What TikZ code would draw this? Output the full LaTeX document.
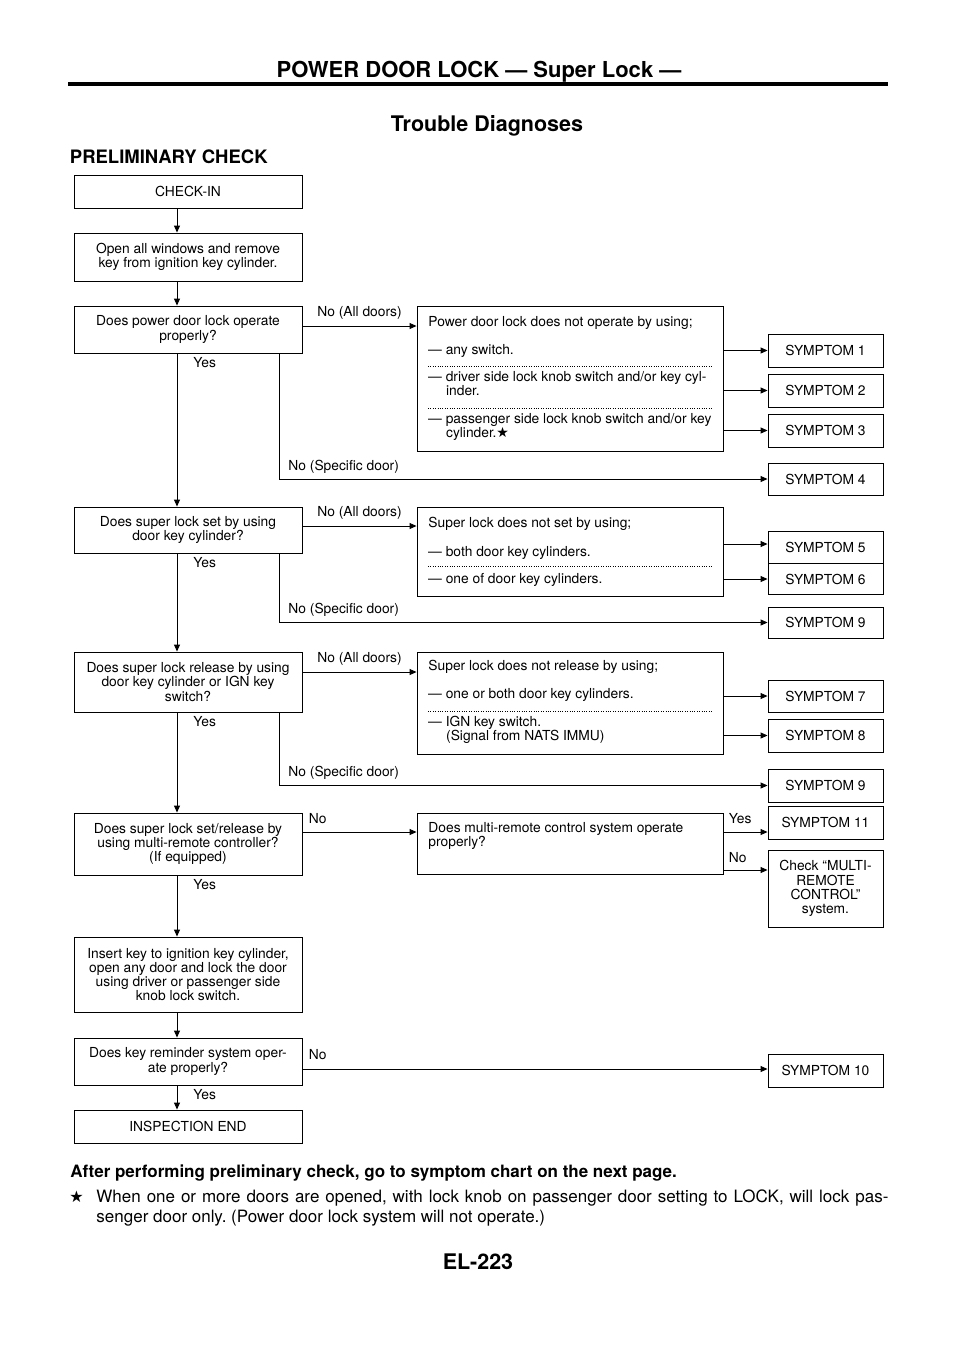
\documentclass[tikz,border=0pt]{standalone}
\usepackage{fontspec}
\setmainfont{TeX Gyre Heros}
\newfontfamily\starfont{DejaVu Sans}
\usetikzlibrary{arrows.meta,calc}
\frenchspacing

\newcommand{\boxfont}{\fontsize{13.8}{14.2}\selectfont}
\newcommand{\notefont}{\fontsize{17}{20}\selectfont}
\newcommand{\starmark}[1]{{\starfont\fontsize{#1}{#1}\selectfont ★}}

\begin{document}
\begin{tikzpicture}[x=1pt, y=-1pt, >={Triangle[length=7pt,width=6pt]}, line width=0.9pt,
    stepbox/.style={draw, align=center, inner sep=2pt, font=\boxfont, minimum width=228pt},
    probbox/.style={draw, inner sep=0pt, minimum width=306pt},
    symbox/.style={draw, align=center, inner sep=2pt, font=\boxfont, minimum width=115pt},
    probtxt/.style={anchor=base west, inner sep=0pt, font=\boxfont},
    dotline/.style={line width=0.7pt, dash pattern=on 0.8pt off 1.6pt},
    lbl/.style={font=\boxfont, inner sep=0pt},
    yeslbl/.style={lbl, pos=0, anchor=base west, xshift=16pt, yshift=-14pt},
    nolbl/.style={lbl, pos=0, anchor=base west, xshift=6pt},
  ]
  \useasboundingbox (0,0) rectangle (960,1358);

  % page heading
  \node[anchor=base, inner sep=0pt, font=\bfseries\fontsize{22}{22}\selectfont] (hdr) at (479,77.3) {POWER DOOR LOCK \textemdash\ Super Lock \textemdash};
  \draw[line width=4pt] (68,83.7) -- (888,83.7);
  \node[anchor=base, inner sep=0pt, font=\bfseries\fontsize{21.5}{21.5}\selectfont] (title) at (487,131) {Trouble Diagnoses};
  \node[anchor=base west, inner sep=0pt, font=\bfseries\fontsize{18.5}{18.5}\selectfont] (sect) at (69.5,163.3) {PRELIMINARY CHECK};

  \coordinate (spine) at (177,0);
  \coordinate (branch) at (279,0);

  % left column
  \node[stepbox, minimum height=33pt] (chk) at (188,191.5) {CHECK-IN};
  \node[stepbox, minimum height=48pt] (open) at (188,257) {Open all windows and remove\\key from ignition key cylinder.};
  \node[stepbox, minimum height=47pt] (q1) at (188,329.5) {Does power door lock operate\\properly?};
  \node[stepbox, minimum height=46pt] (q2) at (188,530) {Does super lock set by using\\door key cylinder?};
  \node[stepbox, minimum height=60pt] (q3) at (188,682) {Does super lock release by using\\door key cylinder or IGN key\\switch?};
  \node[stepbox, minimum height=62pt] (q4) at (188,844) {Does super lock set/release by\\using multi-remote controller?\\(If equipped)};
  \node[stepbox, minimum height=75pt] (ins) at (188,974.5) {Insert key to ignition key cylinder,\\open any door and lock the door\\using driver or passenger side\\knob lock switch.};
  \node[stepbox, minimum height=47pt] (q5) at (188,1061.5) {Does key reminder system oper-\\ate properly?};
  \node[stepbox, minimum height=33pt] (fin) at (188,1126.5) {INSPECTION END};

  % middle column
  \node[probbox, minimum height=145pt] (m1) at (570,378.5) {};
  \node[probtxt] (m1a) at (428,326) {Power door lock does not operate by using;};
  \node[probtxt] (m1b) at (427.7,354) {\textemdash\ any switch.};
  \node[probtxt] (m1c) at (427.7,381.7) {\textemdash\ driver side lock knob switch and/or key cyl-};
  \node[probtxt] (m1d) at (445.7,395) {inder.};
  \node[probtxt] (m1e) at (427.7,423.3) {\textemdash\ passenger side lock knob switch and/or key};
  \node[probtxt] (m1f) at (445.7,437.3) {cylinder.\starmark{14}};
  \draw[dotline] (428,366.7) -- (713,366.7);
  \draw[dotline] (428,408.3) -- (713,408.3);

  \node[probbox, minimum height=89pt] (m2) at (570,551.5) {};
  \node[probtxt] (m2a) at (428,527.7) {Super lock does not set by using;};
  \node[probtxt] (m2b) at (427.7,556) {\textemdash\ both door key cylinders.};
  \node[probtxt] (m2c) at (427.7,583.3) {\textemdash\ one of door key cylinders.};
  \draw[dotline] (428,566) -- (713,566);

  \node[probbox, minimum height=102pt] (m3) at (570,703) {};
  \node[probtxt] (m3a) at (428,670.7) {Super lock does not release by using;};
  \node[probtxt] (m3b) at (427.7,698.3) {\textemdash\ one or both door key cylinders.};
  \node[probtxt] (m3c) at (427.7,726) {\textemdash\ IGN key switch.};
  \node[probtxt] (m3d) at (445.7,740) {(Signal from NATS IMMU)};
  \draw[dotline] (428,711) -- (713,711);

  \node[probbox, minimum height=61pt] (m4) at (570,843.5) {};
  \node[probtxt] (m4a) at (428,832.7) {Does multi-remote control system operate};
  \node[probtxt] (m4b) at (428,846.7) {properly?};

  % symptom column
  \node[symbox, minimum height=33pt] (s1) at (825.5,350.5) {SYMPTOM 1};
  \node[symbox, minimum height=33pt] (s2) at (825.5,390.5) {SYMPTOM 2};
  \node[symbox, minimum height=33pt] (s3) at (825.5,430.5) {SYMPTOM 3};
  \node[symbox, minimum height=32pt] (s4) at (825.5,479) {SYMPTOM 4};
  \node[symbox, minimum height=32pt] (s5) at (825.5,547) {SYMPTOM 5};
  \node[symbox, minimum height=31pt] (s6) at (825.5,579) {SYMPTOM 6};
  \node[symbox, minimum height=31pt] (s9a) at (825.5,622.5) {SYMPTOM 9};
  \node[symbox, minimum height=32pt] (s7) at (825.5,696) {SYMPTOM 7};
  \node[symbox, minimum height=33pt] (s8) at (825.5,735.5) {SYMPTOM 8};
  \node[symbox, minimum height=33pt] (s9b) at (825.5,785.5) {SYMPTOM 9};
  \node[symbox, minimum height=33pt] (s11) at (825.5,822.5) {SYMPTOM 11};
  \node[symbox, minimum height=77pt] (chkrc) at (825.5,888.5) {Check ``MULTI-\\REMOTE\\CONTROL''\\system.};
  \node[symbox, minimum height=33pt] (s10) at (825.5,1070.5) {SYMPTOM 10};

  % main flow
  \draw[->] (chk.south -| spine) -- (open.north -| spine);
  \draw[->] (open.south -| spine) -- (q1.north -| spine);
  \draw[->] (q1.south -| spine) -- node[yeslbl] {Yes} (q2.north -| spine);
  \draw[->] (q2.south -| spine) -- node[yeslbl] {Yes} (q3.north -| spine);
  \draw[->] (q3.south -| spine) -- node[yeslbl] {Yes} (q4.north -| spine);
  \draw[->] (q4.south -| spine) -- node[yeslbl] {Yes} (ins.north -| spine);
  \draw[->] (ins.south -| spine) -- (q5.north -| spine);
  \draw[->] (q5.south -| spine) -- node[yeslbl] {Yes} (fin.north -| spine);

  % No (All doors)
  \draw[->] ([yshift=3.5pt]q1.east) -- node[lbl, midway, anchor=base, yshift=10pt] {No (All doors)} ([yshift=3.5pt]q1.east -| m1.west);
  \draw[->] ([yshift=4pt]q2.east) -- node[lbl, midway, anchor=base, yshift=10pt] {No (All doors)} ([yshift=4pt]q2.east -| m2.west);
  \draw[->] ([yshift=10pt]q3.east) -- node[lbl, midway, anchor=base, yshift=10pt] {No (All doors)} ([yshift=10pt]q3.east -| m3.west);
  \draw[->] ([yshift=12pt]q4.east) -- node[nolbl, yshift=9pt] {No} ([yshift=12pt]q4.east -| m4.west);
  \draw[->] ([yshift=-7.5pt]q5.east) -- node[nolbl, yshift=10pt] {No} ([yshift=-7.5pt]q5.east -| s10.west);

  % No (Specific door)
  \draw[->] (q1.south -| branch) |- node[lbl, pos=0.5, anchor=base west, xshift=9pt, yshift=9pt] {No (Specific door)} (s4.west);
  \draw[->] (q2.south -| branch) |- node[lbl, pos=0.5, anchor=base west, xshift=9pt, yshift=9.5pt] {No (Specific door)} (s9a.west);
  \draw[->] (q3.south -| branch) |- node[lbl, pos=0.5, anchor=base west, xshift=9pt, yshift=9.5pt] {No (Specific door)} (s9b.west);

  % to symptoms
  \draw[->] (s1.west -| m1.east) -- (s1.west);
  \draw[->] (s2.west -| m1.east) -- (s2.west);
  \draw[->] (s3.west -| m1.east) -- (s3.west);
  \draw[->] ([yshift=3pt]s5.west -| m2.east) -- ([yshift=3pt]s5.west);
  \draw[->] (s6.west -| m2.east) -- (s6.west);
  \draw[->] (s7.west -| m3.east) -- (s7.west);
  \draw[->] (s8.west -| m3.east) -- (s8.west);
  \draw[->] ([yshift=-9.5pt]s11.west -| m4.east) -- node[nolbl, xshift=-1pt, yshift=9pt] {Yes} ([yshift=-9.5pt]s11.west);
  \draw[->] ([yshift=18.5pt]chkrc.west -| m4.east) -- node[nolbl, xshift=-1pt, yshift=8pt] {No} ([yshift=18.5pt]chkrc.west);

  % notes
  \node[anchor=base west, inner sep=0pt, font=\bfseries\notefont] (after) at (70,1177) {After performing preliminary check, go to symptom chart on the next page.};
  \node[anchor=base west, inner sep=0pt] (star) at (69,1202) {\starmark{16}};
  \node[anchor=base west, inner sep=0pt, text width=792pt, align=justify, font=\notefont] (note) at (96,1202) {When one or more doors are opened, with lock knob on passenger door setting to LOCK, will lock pas-\linebreak senger door only. (Power door lock system will not operate.)};
  \node[anchor=base, inner sep=0pt, font=\bfseries\fontsize{21.5}{21.5}\selectfont] (pg) at (478,1269) {EL-223};
\end{tikzpicture}
\end{document}
